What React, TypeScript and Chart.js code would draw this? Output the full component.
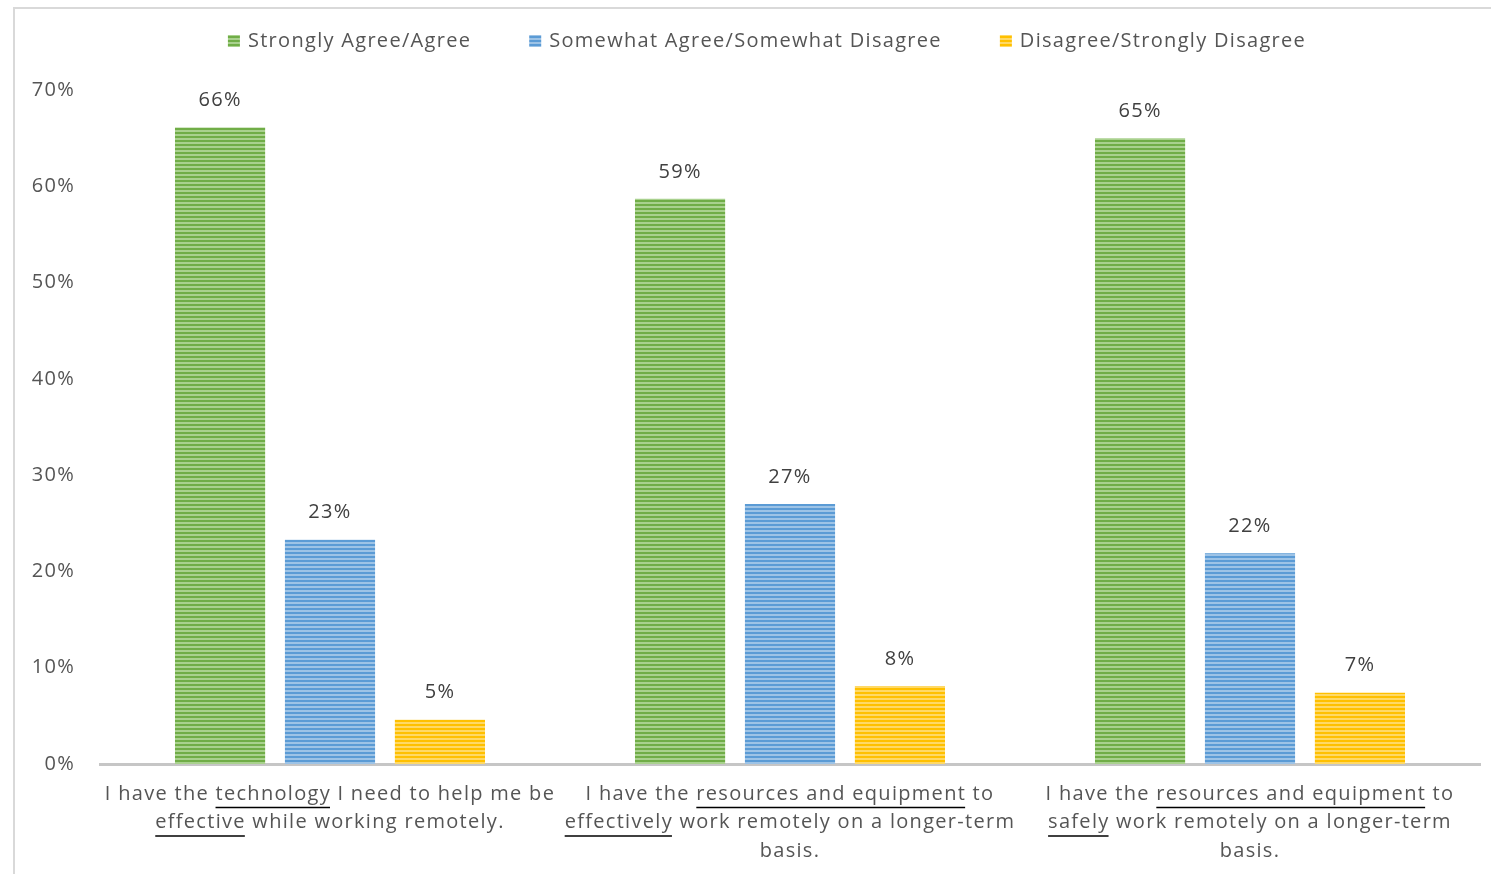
import React, { useEffect, useRef } from "react";
import { Chart, registerables } from "chart.js";

Chart.register(...registerables);

// ---- data ----
const categoryLines: string[][] = [
  ["I have the _technology_ I need to help me be", "_effective_ while working remotely."],
  ["I have the _resources and equipment_ to", "_effectively_ work remotely on a longer-term", "basis."],
  ["I have the _resources and equipment_ to", "_safely_ work remotely on a longer-term", "basis."],
];
const seriesNames = [
  "Strongly Agree/Agree",
  "Somewhat Agree/Somewhat Disagree",
  "Disagree/Strongly Disagree",
];
const agreeValues = [66.1, 58.7, 65.0];
const somewhatValues = [23.3, 27.0, 21.9];
const disagreeValues = [4.6, 8.1, 7.4];
const yMin = 0;
const yMax = 70;
const yStep = 10;

// ---- styles ----
const baseColors = ["#70ad47", "#5b9bd5", "#ffc000"];
const stripeColors = ["#a9d18e", "#9dc3e6", "#ffd966"];
const FONT = "'Open Sans', 'DejaVu Sans', sans-serif";
const FONT_SIZE = 20;
const TEXT = "#555555";
const SPACING = "1.3px";

function makePattern(base: string, stripe: string): CanvasPattern | string {
  const c = document.createElement("canvas");
  c.width = 4;
  c.height = 4;
  const ctx = c.getContext("2d");
  if (!ctx) return base;
  ctx.fillStyle = base;
  ctx.fillRect(0, 0, 4, 4);
  ctx.fillStyle = stripe;
  ctx.fillRect(0, 2, 4, 2);
  const p = ctx.createPattern(c, "repeat");
  return p || base;
}

const spacingPlugin = {
  id: "letterSpacing",
  beforeUpdate(chart: any) {
    (chart.ctx as any).letterSpacing = SPACING;
  },
  beforeDraw(chart: any) {
    (chart.ctx as any).letterSpacing = SPACING;
  },
};

const valueLabelPlugin = {
  id: "valueLabels",
  afterDatasetsDraw(chart: any) {
    const ctx = chart.ctx;
    ctx.save();
    ctx.letterSpacing = SPACING;
    ctx.font = `${FONT_SIZE}px ${FONT}`;
    ctx.fillStyle = "#404040";
    ctx.textAlign = "center";
    ctx.textBaseline = "middle";
    chart.data.datasets.forEach((ds: any, di: number) => {
      const meta = chart.getDatasetMeta(di);
      meta.data.forEach((bar: any, i: number) => {
        const v = ds.data[i];
        ctx.fillText(`${Math.round(v)}%`, bar.x, bar.y - 27);
      });
    });
    ctx.restore();
  },
};

const xLabelPlugin = {
  id: "xLabels",
  afterDraw(chart: any) {
    const ctx = chart.ctx;
    const xs = chart.scales.x;
    const bottom = chart.chartArea.bottom;
    ctx.save();
    ctx.letterSpacing = SPACING;
    ctx.font = `${FONT_SIZE}px ${FONT}`;
    ctx.textBaseline = "middle";
    ctx.textAlign = "left";
    categoryLines.forEach((lines, i) => {
      const cx = xs.getPixelForValue(i);
      lines.forEach((line, j) => {
        const segs = line.split("_");
        const widths = segs.map((s) => ctx.measureText(s).width);
        const total = widths.reduce((a, b) => a + b, 0);
        let x = cx - total / 2;
        const y = bottom + 30 + j * 28.5;
        segs.forEach((s, k) => {
          ctx.fillStyle = TEXT;
          ctx.fillText(s, x, y);
          if (k % 2 === 1) {
            ctx.strokeStyle = "#000000";
            ctx.lineWidth = 1.5;
            ctx.beginPath();
            ctx.moveTo(x, y + 13.5);
            ctx.lineTo(x + widths[k] - 1, y + 13.5);
            ctx.stroke();
          }
          x += widths[k];
        });
      });
    });
    ctx.restore();
  },
};

const legendPlugin = {
  id: "customLegend",
  afterDraw(chart: any) {
    const ctx = chart.ctx;
    ctx.save();
    ctx.letterSpacing = SPACING;
    ctx.font = `${FONT_SIZE}px ${FONT}`;
    ctx.textBaseline = "middle";
    ctx.textAlign = "left";
    const box = 12;
    const gapBoxText = 8;
    const gapItems = 58;
    const items = chart.data.datasets.map((ds: any) => ({
      label: ds.label,
      color: ds.backgroundColor,
      w: box + gapBoxText + ctx.measureText(ds.label).width,
    }));
    const total = items.reduce((a: number, it: any) => a + it.w, 0) + gapItems * (items.length - 1);
    let x = 767 - total / 2;
    const y = 41;
    items.forEach((it: any) => {
      ctx.fillStyle = it.color;
      ctx.fillRect(x, y - box / 2, box, box);
      ctx.fillStyle = TEXT;
      ctx.fillText(it.label, x + box + gapBoxText, y);
      x += it.w + gapItems;
    });
    ctx.restore();
  },
};

export default function App() {
  const ref = useRef<HTMLCanvasElement | null>(null);

  useEffect(() => {
    if (!ref.current) return;
    const patterns = baseColors.map((c, i) => makePattern(c, stripeColors[i]));
    const chart = new Chart(ref.current, {
      type: "bar",
      data: {
        labels: categoryLines.map((l) => l.join(" ").replace(/_/g, "")),
        datasets: [
          { label: seriesNames[0], data: agreeValues, backgroundColor: patterns[0] as any },
          { label: seriesNames[1], data: somewhatValues, backgroundColor: patterns[1] as any },
          { label: seriesNames[2], data: disagreeValues, backgroundColor: patterns[2] as any },
        ],
      },
      options: {
        animation: false,
        responsive: false,
        maintainAspectRatio: false,
        layout: { padding: { left: 5, right: 11, top: 90, bottom: 110 } },
        datasets: {
          bar: { categoryPercentage: 0.717, barPercentage: 0.82 },
        },
        plugins: {
          legend: { display: false },
          tooltip: { enabled: false },
        },
        scales: {
          x: {
            grid: { display: false, drawTicks: false },
            border: { display: true, color: "#c6c6c6", width: 3 },
            ticks: { display: false },
          },
          y: {
            min: yMin,
            max: yMax,
            grid: { display: false, drawTicks: false },
            border: { display: false },
            afterFit: (scale: any) => {
              scale.width = 95;
            },
            ticks: {
              stepSize: yStep,
              padding: 25,
              color: TEXT,
              font: { family: FONT, size: FONT_SIZE },
              callback: (v: any) => `${v}%`,
            },
          },
        },
      },
      plugins: [spacingPlugin, valueLabelPlugin, xLabelPlugin, legendPlugin],
    });
    return () => chart.destroy();
  }, []);

  return (
    <div style={{ position: "fixed", left: 0, top: 0, width: 1491, height: 874, background: "#fff" }}>
      <div
        style={{
          position: "absolute",
          left: 13,
          top: 7,
          right: 0,
          bottom: 0,
          borderLeft: "2px solid #d9d9d9",
          borderTop: "2px solid #d9d9d9",
        }}
      />
      <canvas ref={ref} width={1491} height={874} style={{ position: "absolute", left: 0, top: 0 }} />
    </div>
  );
}
